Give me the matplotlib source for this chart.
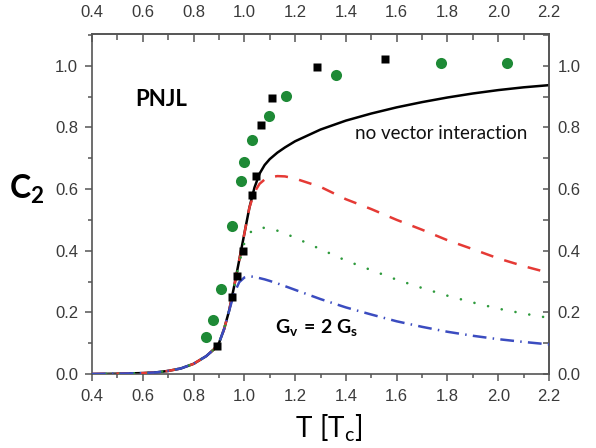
import matplotlib
matplotlib.use("Agg")
import matplotlib.pyplot as plt
from matplotlib.ticker import MultipleLocator

plt.rcParams['mathtext.fontset'] = 'custom'
plt.rcParams['mathtext.rm'] = 'Lato'
plt.rcParams['mathtext.bf'] = 'Lato:bold'
plt.rcParams['mathtext.it'] = 'Lato:bold'

# ---- data ----
T = [0.4, 0.5, 0.6, 0.65, 0.7, 0.75, 0.8, 0.85, 0.88, 0.9, 0.92, 0.94, 0.96, 0.98,
     1.0, 1.02, 1.04, 1.06, 1.08, 1.1, 1.13, 1.16, 1.2, 1.3, 1.4, 1.5, 1.6, 1.7,
     1.8, 1.9, 2.0, 2.1, 2.2]
c2_novec = [0, 0.001, 0.003, 0.005, 0.01, 0.018, 0.033, 0.058, 0.08, 0.10, 0.145, 0.205,
            0.285, 0.37, 0.455, 0.54, 0.605, 0.65, 0.678, 0.697, 0.718, 0.735, 0.755,
            0.793, 0.822, 0.845, 0.865, 0.882, 0.897, 0.910, 0.921, 0.930, 0.937]
c2_red = [0, 0.001, 0.003, 0.005, 0.01, 0.018, 0.033, 0.058, 0.08, 0.10, 0.145, 0.205,
          0.285, 0.37, 0.455, 0.54, 0.59, 0.617, 0.631, 0.638, 0.642, 0.641, 0.634,
          0.607, 0.567, 0.535, 0.50, 0.468, 0.434, 0.405, 0.375, 0.350, 0.328]
c2_green = [0, 0.001, 0.003, 0.005, 0.01, 0.018, 0.033, 0.058, 0.08, 0.10, 0.145, 0.205,
            0.285, 0.36, 0.425, 0.457, 0.47, 0.475, 0.474, 0.471, 0.465, 0.456, 0.442,
            0.405, 0.368, 0.337, 0.306, 0.279, 0.254, 0.232, 0.212, 0.196, 0.182]
c2_blue = [0, 0.001, 0.003, 0.005, 0.01, 0.018, 0.033, 0.058, 0.08, 0.10, 0.145, 0.205,
           0.262, 0.298, 0.313, 0.317, 0.315, 0.311, 0.307, 0.302, 0.294, 0.285, 0.273,
           0.243, 0.216, 0.193, 0.171, 0.153, 0.137, 0.124, 0.113, 0.104, 0.096]

lat_sq_T = [0.892, 0.950, 0.970, 0.995, 1.030, 1.045, 1.066, 1.108, 1.285, 1.554]
lat_sq_c2 = [0.091, 0.250, 0.319, 0.400, 0.581, 0.642, 0.808, 0.894, 0.995, 1.021]
lat_ci_T = [0.849, 0.878, 0.909, 0.953, 0.987, 0.997, 1.031, 1.098, 1.164, 1.361, 1.776, 2.036]
lat_ci_c2 = [0.119, 0.175, 0.277, 0.480, 0.626, 0.689, 0.759, 0.838, 0.902, 0.969, 1.008, 1.010]

xticks = [0.4, 0.6, 0.8, 1.0, 1.2, 1.4, 1.6, 1.8, 2.0, 2.2]
yticks = [0.0, 0.2, 0.4, 0.6, 0.8, 1.0]

# ---- figure ----
fig = plt.figure(figsize=(5.96, 4.48), dpi=100)
ax = fig.add_axes([92/596, 1-374/448, (549-92)/596, (374-34.3)/448])

lw = 1.8
ax.plot(T, c2_novec, color='black', lw=lw, zorder=2)
ax.plot(T, c2_red, color='#e53a35', lw=lw, dashes=(5.2, 4.6), zorder=3)
ax.plot(T, c2_green, color='#2e9a3c', lw=1.9, dashes=(0.01, 5.3),
        dash_capstyle='round', zorder=3)
ax.plot(T, c2_blue, color='#3b4cc0', lw=lw, dashes=(5.5, 2.5, 0.6, 2.5), zorder=4)

ax.plot(lat_ci_T, lat_ci_c2, 'o', color='#1e8a36', ms=8, mec='none', zorder=5)
ax.plot(lat_sq_T, lat_sq_c2, 's', color='black', ms=6, mec='none', zorder=6)

ax.set_xlim(0.4, 2.2)
ax.set_ylim(0, 1.102)

spine_col = '#555555'
lab_col = '#3a3a3a'
for s in ax.spines.values():
    s.set_color(spine_col)
    s.set_linewidth(1.2)

tick_font = 'Liberation Sans'
fs_tick = 12

ax.set_xticks(xticks)
ax.set_yticks(yticks)
ax.xaxis.set_minor_locator(MultipleLocator(0.1))
ax.yaxis.set_minor_locator(MultipleLocator(0.1))
ax.set_xticklabels([f"{v:.1f}" for v in xticks])
ax.set_yticklabels([f"{v:.1f}" for v in yticks])
ax.tick_params(which='major', direction='out', length=5, width=1.1, color=spine_col,
               labelsize=fs_tick, labelcolor=lab_col)
ax.tick_params(which='minor', direction='out', length=3, width=1.1, color=spine_col)
ax.tick_params(axis='x', which='major', pad=6)
ax.tick_params(axis='y', which='major', pad=5)
for lbl in ax.get_xticklabels() + ax.get_yticklabels():
    lbl.set_family(tick_font)

secx = ax.secondary_xaxis('top')
secx.set_xticks(xticks)
secx.set_xticklabels([f"{v:.1f}" for v in xticks])
secx.xaxis.set_minor_locator(MultipleLocator(0.1))
secx.tick_params(which='major', direction='in', length=6, width=1.1, color=spine_col,
                 labelsize=fs_tick, labelcolor=lab_col, pad=10)
secx.tick_params(which='minor', direction='in', length=4, width=1.1, color=spine_col)
secx.spines['top'].set_color(spine_col)
secx.spines['top'].set_linewidth(1.2)
for lbl in secx.get_xticklabels():
    lbl.set_family(tick_font)

secy = ax.secondary_yaxis('right')
secy.set_yticks(yticks)
secy.set_yticklabels([f"{v:.1f}" for v in yticks])
secy.yaxis.set_minor_locator(MultipleLocator(0.1))
secy.tick_params(which='major', direction='in', length=4, width=1.1, color=spine_col,
                 labelsize=fs_tick, labelcolor=lab_col, pad=6)
secy.tick_params(which='minor', direction='in', length=4, width=1.1, color=spine_col)
secy.spines['right'].set_color(spine_col)
secy.spines['right'].set_linewidth(1.2)
for lbl in secy.get_yticklabels():
    lbl.set_family(tick_font)

# annotations
ax.text(0.672, 0.892, 'PNJL', family='Lato', weight='bold', fontsize=16,
        ha='center', va='center', color='black')
ax.text(1.436, 0.78, 'no vector interaction', family='Lato', fontsize=13.5,
        ha='left', va='center', color='#111111')
ax.text(1.121, 0.152, r'$\mathbf{G_{v}\,=\,2\;G_{s}}$', fontsize=14,
        ha='left', va='center', color='black')

fig.text(0.045, 0.578, r'$\mathbf{C_{2}}$', fontsize=23, ha='center', va='center')
fig.text(0.552, 0.045, r'$\mathrm{T\ [T_{c}]}$', fontsize=20, ha='center', va='center')

fig.savefig('out.png', dpi=100)
